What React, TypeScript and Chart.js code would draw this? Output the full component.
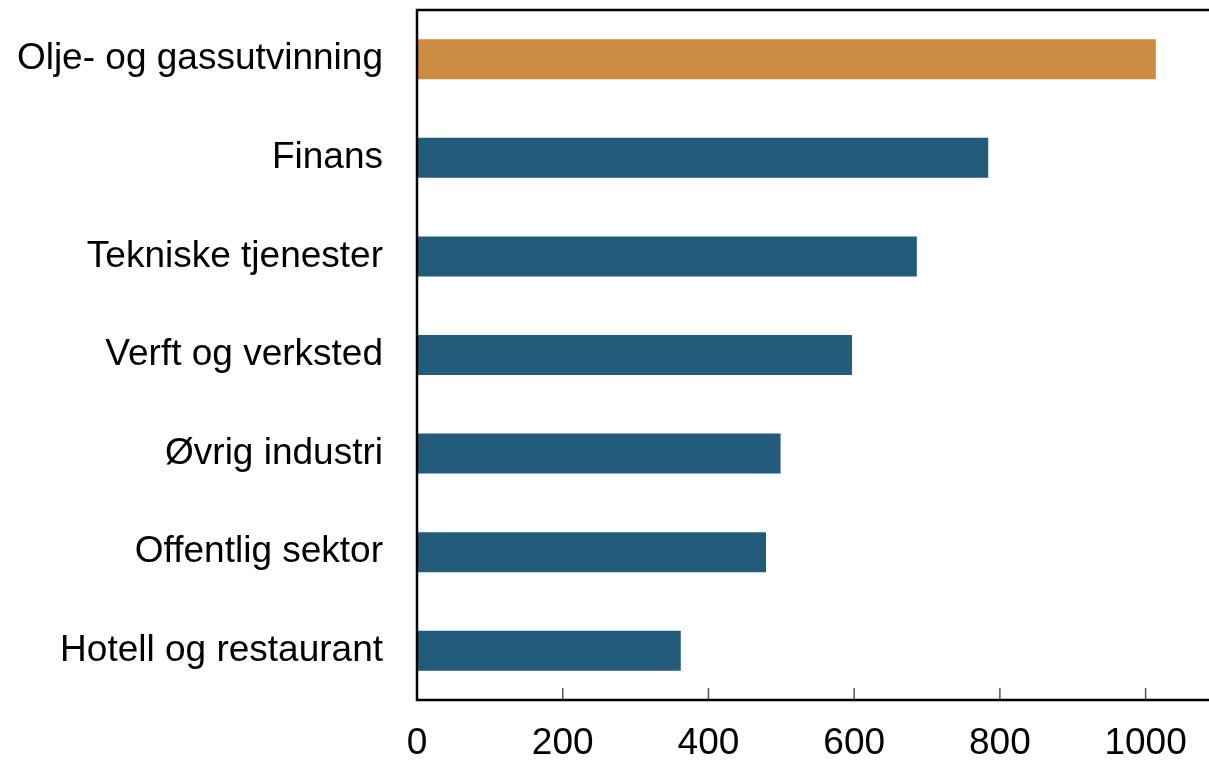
import React, { useEffect, useRef } from "react";
import { Chart, registerables } from "chart.js";

Chart.register(...registerables);

const categories = [
  "Olje- og gassutvinning",
  "Finans",
  "Tekniske tjenester",
  "Verft og verksted",
  "Øvrig industri",
  "Offentlig sektor",
  "Hotell og restaurant",
];
const values = [1014, 784, 686, 597, 499, 479, 362];
const barColors = ["#CC8B43", "#235B7A", "#235B7A", "#235B7A", "#235B7A", "#235B7A", "#235B7A"];
const xTicks = [0, 200, 400, 600, 800, 1000];
const xMax = 1087;

const framePlugin = {
  id: "frame",
  afterDraw(chart: any) {
    const { ctx, chartArea } = chart;
    const xs = chart.scales.x;
    ctx.save();
    ctx.strokeStyle = "#555555";
    ctx.lineWidth = 1.5;
    xs.ticks.forEach((t: any, i: number) => {
      if (t.value === 0) return;
      const px = xs.getPixelForTick(i);
      ctx.beginPath();
      ctx.moveTo(px, chartArea.bottom);
      ctx.lineTo(px, chartArea.bottom - 12);
      ctx.stroke();
    });
    ctx.strokeStyle = "#000000";
    ctx.lineWidth = 2.5;
    ctx.beginPath();
    ctx.moveTo(chartArea.right, chartArea.top);
    ctx.lineTo(chartArea.left, chartArea.top);
    ctx.lineTo(chartArea.left, chartArea.bottom);
    ctx.lineTo(chartArea.right, chartArea.bottom);
    ctx.stroke();
    ctx.restore();
  },
};

const FONT = "Liberation Sans, Arial, sans-serif";

export default function App() {
  const ref = useRef<HTMLCanvasElement>(null);
  useEffect(() => {
    if (!ref.current) return;
    const chart = new Chart(ref.current, {
      type: "bar",
      data: {
        labels: categories,
        datasets: [
          {
            data: values,
            backgroundColor: barColors,
            borderWidth: 0,
            barPercentage: 0.406,
            categoryPercentage: 1,
          },
        ],
      },
      options: {
        indexAxis: "y",
        animation: false,
        responsive: false,
        maintainAspectRatio: false,
        layout: { padding: { left: 0, top: 10, right: 0, bottom: 0 } },
        plugins: { legend: { display: false }, tooltip: { enabled: false } },
        scales: {
          x: {
            min: 0,
            max: xMax,
            afterBuildTicks(scale: any) {
              scale.ticks = xTicks.map((v) => ({ value: v }));
            },
            afterFit(scale: any) {
              scale.height = 63;
              scale.paddingLeft = 0;
              scale.paddingRight = 0;
            },
            grid: { display: false, drawTicks: false },
            border: { display: false },
            ticks: {
              color: "#000000",
              padding: 22,
              font: { family: FONT, size: 37 },
              maxRotation: 0,
              callback: (v: any) => String(v),
            },
          },
          y: {
            afterFit(scale: any) {
              scale.width = 417;
              scale.paddingTop = 0;
              scale.paddingBottom = 0;
            },
            grid: { display: false, drawTicks: false },
            border: { display: false },
            ticks: {
              color: "#000000",
              padding: 34,
              font: { family: FONT, size: 37 },
            },
          },
        },
      },
      plugins: [framePlugin],
    });
    return () => chart.destroy();
  }, []);
  return (
    <div style={{ position: "absolute", left: 0, top: 0, width: 1209, height: 763, background: "#fff" }}>
      <canvas ref={ref} width={1209} height={763} style={{ width: 1209, height: 763 }} />
    </div>
  );
}
